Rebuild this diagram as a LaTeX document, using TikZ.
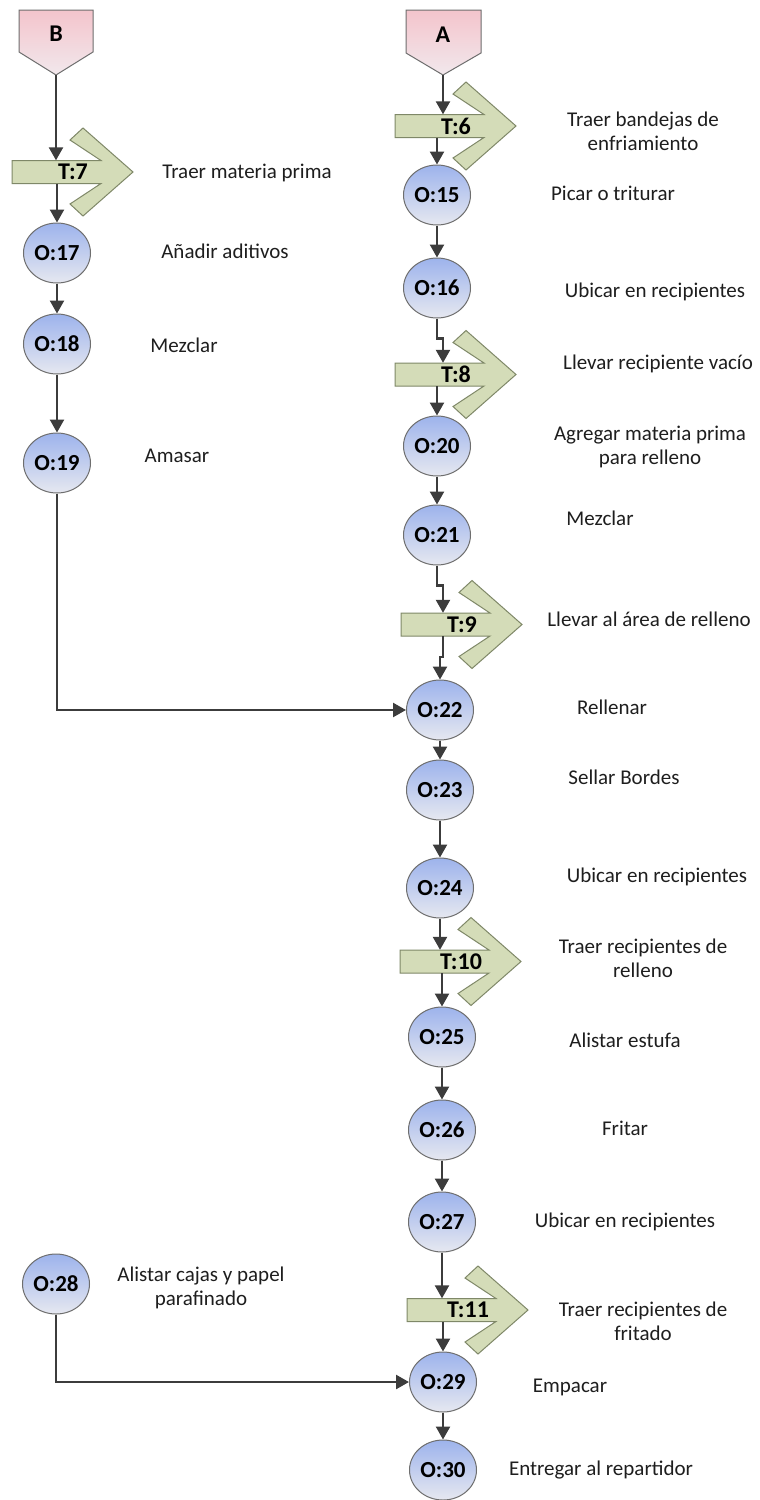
\documentclass[tikz,border=0pt]{standalone}
\usepackage{fontspec}
\setmainfont{Carlito}
\usetikzlibrary{arrows.meta,shapes.geometric,calc}

\definecolor{linegray}{HTML}{3C3C3C}
\definecolor{opTop}{HTML}{9DB3EC}
\definecolor{opBot}{HTML}{E6E8F0}
\definecolor{opEdge}{HTML}{6E6E6E}
\definecolor{trFill}{HTML}{D4DCB8}
\definecolor{trEdge}{HTML}{7F8868}
\definecolor{pkTop}{HTML}{F3C4CC}
\definecolor{pkBot}{HTML}{F2E8EC}
\definecolor{txt}{HTML}{1E1E1E}

\tikzset{
  op/.style={ellipse, draw=opEdge, line width=1pt, top color=opTop, bottom color=opBot,
    minimum width=67pt, minimum height=60pt, inner sep=0pt, font=\bfseries\fontsize{23}{23}\selectfont},
  flow/.style={draw=linegray, line width=2.4pt, -{Triangle[width=14pt,length=13pt]}},
  desc/.style={align=center, text=txt, font=\fontsize{21}{24}\selectfont, inner sep=0pt},
  tag/.style={font=\bfseries\fontsize{24}{24}\selectfont, inner sep=0pt},
  trshape/.style={fill=trFill, draw=trEdge, line width=1pt, line join=miter},
  penta/.style={draw=opEdge, line width=1pt, top color=pkTop, bottom color=pkBot},
}

% transport symbol: bar with a chevron head; #1 name, #2 left x, #3 centre y, #4 label
\newcommand\transport[4]{%
  \begin{scope}[shift={(#2,#3)}]
    \path[trshape] (0,-11.5) -- (89,-11.5) -- (58,-32) -- (71,-44) -- (121,0)
      -- (71,44) -- (58,32) -- (89,11.5) -- (0,11.5) -- cycle;
    \node[inner sep=0pt, minimum width=89pt, minimum height=23pt] (#1) at (44.5,0) {};
    \node[tag] (#1-lbl) at (61,0) {#4};
  \end{scope}}

\begin{document}
\begin{tikzpicture}[x=1pt, y=-1pt]
  \useasboundingbox (0,0) rectangle (760,1500);
  \fill[white] (0,0) rectangle (760,1500);

  % connectors B and A
  \coordinate (Btip) at (56,75);
  \path[penta] (19,10) -- (93,10) -- (93,52) -- (Btip) -- (19,52) -- cycle;
  \node[tag] (B) at (56,34) {B};
  \coordinate (Atip) at (443,75);
  \path[penta] (406,10) -- (481,10) -- (481,53) -- (Atip) -- (406,53) -- cycle;
  \node[tag] (A) at (443,35) {A};

  % transports
  \transport{t7}{12}{172}{T:7}
  \transport{t6}{395}{126}{T:6}
  \transport{t8}{395}{374.5}{T:8}
  \transport{t9}{401}{624.5}{T:9}
  \transport{t10}{400}{961.5}{T:10}
  \transport{t11}{407}{1310}{T:11}

  % operations
  \node[op] (o17) at (57,253) {O:17};
  \node[op] (o18) at (57,344) {O:18};
  \node[op] (o19) at (57,463) {O:19};
  \node[op] (o28) at (56,1284) {O:28};
  \node[op] (o15) at (437,195) {O:15};
  \node[op] (o16) at (437,288) {O:16};
  \node[op] (o20) at (437,446) {O:20};
  \node[op] (o21) at (437,535) {O:21};
  \node[op] (o22) at (440,710) {O:22};
  \node[op] (o23) at (440,790) {O:23};
  \node[op] (o24) at (440,888) {O:24};
  \node[op] (o25) at (442,1037) {O:25};
  \node[op] (o26) at (442,1130) {O:26};
  \node[op] (o27) at (442,1222) {O:27};
  \node[op] (o29) at (443,1382) {O:29};
  \node[op] (o30) at (443,1470) {O:30};

  % descriptions
  \node[desc] (d7)  at (247,173) {Traer materia prima};
  \node[desc] (d17) at (225,251) {Añadir aditivos};
  \node[desc] (d18) at (184,345) {Mezclar};
  \node[desc] (d19) at (177,456) {Amasar};
  \node[desc] (d28) at (201,1288) {Alistar cajas y papel\\parafinado};
  \node[desc] (d6)  at (643,131) {Traer bandejas de\\enfriamiento};
  \node[desc] (d15) at (613,193) {Picar o triturar};
  \node[desc] (d16) at (655,292) {Ubicar en recipientes};
  \node[desc] (d8)  at (658,364) {Llevar recipiente vacío};
  \node[desc] (d20) at (650,447) {Agregar materia prima\\para relleno};
  \node[desc] (d21) at (600,518) {Mezclar};
  \node[desc] (d9)  at (649,619) {Llevar al área de relleno};
  \node[desc] (d22) at (612,707) {Rellenar};
  \node[desc] (d23) at (624,777) {Sellar Bordes};
  \node[desc] (d24) at (657,877) {Ubicar en recipientes};
  \node[desc] (d10) at (643,958) {Traer recipientes de\\relleno};
  \node[desc] (d25) at (625,1040) {Alistar estufa};
  \node[desc] (d26) at (625,1128) {Fritar};
  \node[desc] (d27) at (625,1222) {Ubicar en recipientes};
  \node[desc] (d11) at (643,1321) {Traer recipientes de\\fritado};
  \node[desc] (d29) at (570,1387) {Empacar};
  \node[desc] (d30) at (601,1470) {Entregar al repartidor};

  % flow, left column
  \draw[flow] (Btip) -- (Btip |- t7.north);
  \draw[flow] (t7.south -| o17) -- (o17.north);
  \draw[flow] (o17) -- (o18);
  \draw[flow] (o18) -- (o19);
  \draw[flow] (o19.south) |- (o22.west);
  \draw[flow] (o28.south) |- (o29.west);

  % flow, right column
  \draw[flow] (Atip) -- (Atip |- t6.north);
  \draw[flow] (t6.south -| o15) -- (o15.north);
  \draw[flow] (o15) -- (o16);
  \draw[flow] (o16.south) -- ++(0,20) -| ([xshift=3.5pt]t8.north);
  \draw[flow] (t8.south -| o20) -- (o20.north);
  \draw[flow] (o20) -- (o21);
  \draw[flow] (o21.south) -- ++(0,20) -| ([xshift=-2.5pt]t9.north);
  \draw[flow] ([xshift=-2.5pt]t9.south) -- ++(0,21) -| (o22.north);
  \draw[flow] (o22) -- (o23);
  \draw[flow] (o23) -- (o24);
  \draw[flow] (o24.south) -- (o24.south |- t10.north);
  \draw[flow] (t10.south -| o25) -- (o25.north);
  \draw[flow] (o25) -- (o26);
  \draw[flow] (o26) -- (o27);
  \draw[flow] (o27.south) -- (o27.south |- t11.north);
  \draw[flow] (t11.south -| o29) -- (o29.north);
  \draw[flow] (o29) -- (o30);
\end{tikzpicture}
\end{document}
